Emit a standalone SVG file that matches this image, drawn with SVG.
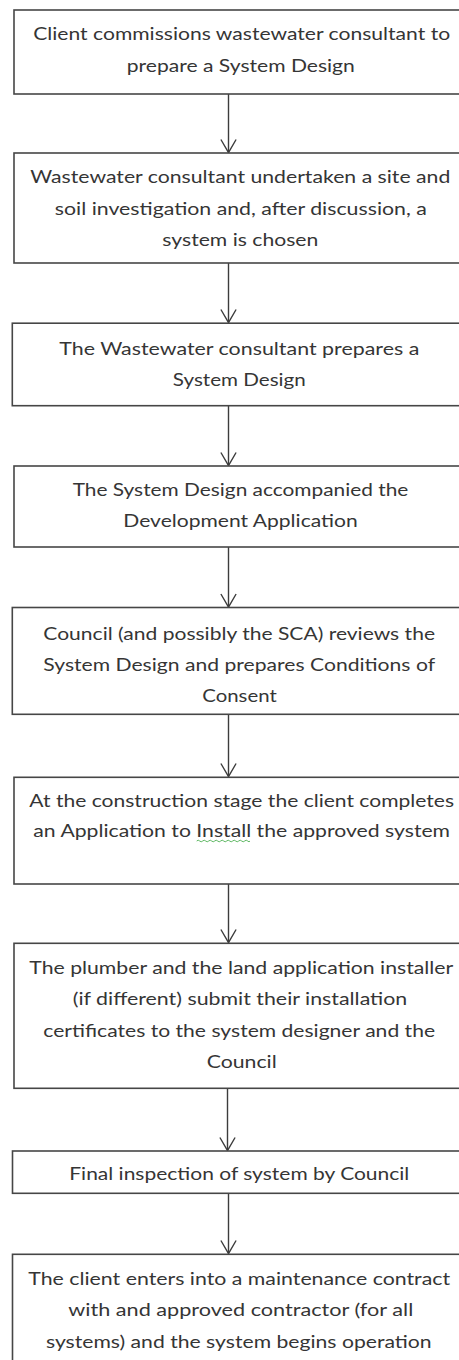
<svg xmlns="http://www.w3.org/2000/svg" width="459" height="1360" viewBox="0 0 459 1360">
<defs>
<style>
.box{fill:#fff;stroke:#464646;stroke-width:1.6}
.t{font-family:Lato,"Open Sans","Liberation Sans",sans-serif;font-size:18px;fill:#353535;text-anchor:middle}
.c{stroke:#3c3c3c;stroke-width:1.4;fill:none}
</style>
<marker id="ah" markerUnits="userSpaceOnUse" markerWidth="20" markerHeight="20" refX="0" refY="0" viewBox="-15 -10 17 20" orient="auto">
<path d="M-13,-7.6 L0,0 L-13,7.6" fill="none" stroke="#3c3c3c" stroke-width="1.4"/>
</marker>
</defs>
<rect width="459" height="1360" fill="#fff"/>
<g id="connectors">
<line class="c" x1="228.5" y1="94" x2="228.5" y2="152.5" marker-end="url(#ah)"/>
<line class="c" x1="228.5" y1="263" x2="228.5" y2="322.5" marker-end="url(#ah)"/>
<line class="c" x1="228.5" y1="405.5" x2="228.5" y2="465.5" marker-end="url(#ah)"/>
<line class="c" x1="228.5" y1="547" x2="228.5" y2="607" marker-end="url(#ah)"/>
<line class="c" x1="228.5" y1="714" x2="228.5" y2="776.5" marker-end="url(#ah)"/>
<line class="c" x1="228.5" y1="884" x2="228.5" y2="942.5" marker-end="url(#ah)"/>
<line class="c" x1="227.5" y1="1088" x2="227.5" y2="1150.5" marker-end="url(#ah)"/>
<line class="c" x1="228.5" y1="1193" x2="228.5" y2="1253.5" marker-end="url(#ah)"/>
</g>
<g id="n1">
<rect class="box" x="14" y="10" width="460" height="84"/>
<text class="t" x="241.7" y="40" textLength="417" lengthAdjust="spacingAndGlyphs">Client commissions wastewater consultant to</text>
<text class="t" x="240.8" y="71.7" textLength="228" lengthAdjust="spacingAndGlyphs">prepare a System Design</text>
</g>
<g id="n2">
<rect class="box" x="14" y="153" width="460" height="110"/>
<text class="t" x="240.3" y="183.3" textLength="420" lengthAdjust="spacingAndGlyphs">Wastewater consultant undertaken a site and</text>
<text class="t" x="240.8" y="215" textLength="372" lengthAdjust="spacingAndGlyphs">soil investigation and, after discussion, a</text>
<text class="t" x="240.3" y="246" textLength="156" lengthAdjust="spacingAndGlyphs">system is chosen</text>
</g>
<g id="n3">
<rect class="box" x="12.3" y="323.2" width="460" height="82.5"/>
<text class="t" x="239.3" y="355" textLength="360" lengthAdjust="spacingAndGlyphs">The Wastewater consultant prepares a</text>
<text class="t" x="239.3" y="386" textLength="133" lengthAdjust="spacingAndGlyphs">System Design</text>
</g>
<g id="n4">
<rect class="box" x="14" y="466" width="460" height="81"/>
<text class="t" x="240.5" y="496" textLength="335.6" lengthAdjust="spacingAndGlyphs">The System Design accompanied the</text>
<text class="t" x="240.5" y="527" textLength="234.4" lengthAdjust="spacingAndGlyphs">Development Application</text>
</g>
<g id="n5">
<rect class="box" x="12.3" y="607.5" width="460" height="106.8"/>
<text class="t" x="239.2" y="640" textLength="391.7" lengthAdjust="spacingAndGlyphs">Council (and possibly the SCA) reviews the</text>
<text class="t" x="239.2" y="670.7" textLength="391.7" lengthAdjust="spacingAndGlyphs">System Design and prepares Conditions of</text>
<text class="t" x="239.5" y="701.7" textLength="74.4" lengthAdjust="spacingAndGlyphs">Consent</text>
</g>
<g id="n6">
<rect class="box" x="14" y="777.3" width="460" height="106.7"/>
<text class="t" x="241.7" y="807.3" textLength="424.7" lengthAdjust="spacingAndGlyphs">At the construction stage the client completes</text>
<text class="t" x="241.7" y="836.7" textLength="416.7" lengthAdjust="spacingAndGlyphs">an Application to Install the approved system</text>
<path d="M196.7,841 q1.5,-1.6 3,0 t3,0 t3,0 t3,0 t3,0 t3,0 t3,0 t3,0 t3,0 t3,0 t3,0 t3,0 t3,0 t3,0 t3,0 t3,0 t3,0 t2.3,0" fill="none" stroke="#4caf50" stroke-width="0.9"/>
</g>
<g id="n7">
<rect class="box" x="14" y="943.3" width="460" height="145"/>
<text class="t" x="241.3" y="974" textLength="424" lengthAdjust="spacingAndGlyphs">The plumber and the land application installer</text>
<text class="t" x="240" y="1005" textLength="334.6" lengthAdjust="spacingAndGlyphs">(if different) submit their installation</text>
<text class="t" x="239.2" y="1036.7" textLength="391.7" lengthAdjust="spacingAndGlyphs">certificates to the system designer and the</text>
<text class="t" x="241.7" y="1068" textLength="70" lengthAdjust="spacingAndGlyphs">Council</text>
</g>
<g id="n8">
<rect class="box" x="12.5" y="1151" width="460" height="42.3"/>
<text class="t" x="239.3" y="1180" textLength="340" lengthAdjust="spacingAndGlyphs">Final inspection of system by Council</text>
</g>
<g id="n9">
<rect class="box" x="12.5" y="1254.3" width="460" height="120"/>
<text class="t" x="239.2" y="1285" textLength="421.7" lengthAdjust="spacingAndGlyphs">The client enters into a maintenance contract</text>
<text class="t" x="240.8" y="1316" textLength="345" lengthAdjust="spacingAndGlyphs">with and approved contractor (for all</text>
<text class="t" x="238.8" y="1348.3" textLength="385.7" lengthAdjust="spacingAndGlyphs">systems) and the system begins operation</text>
</g>
</svg>
